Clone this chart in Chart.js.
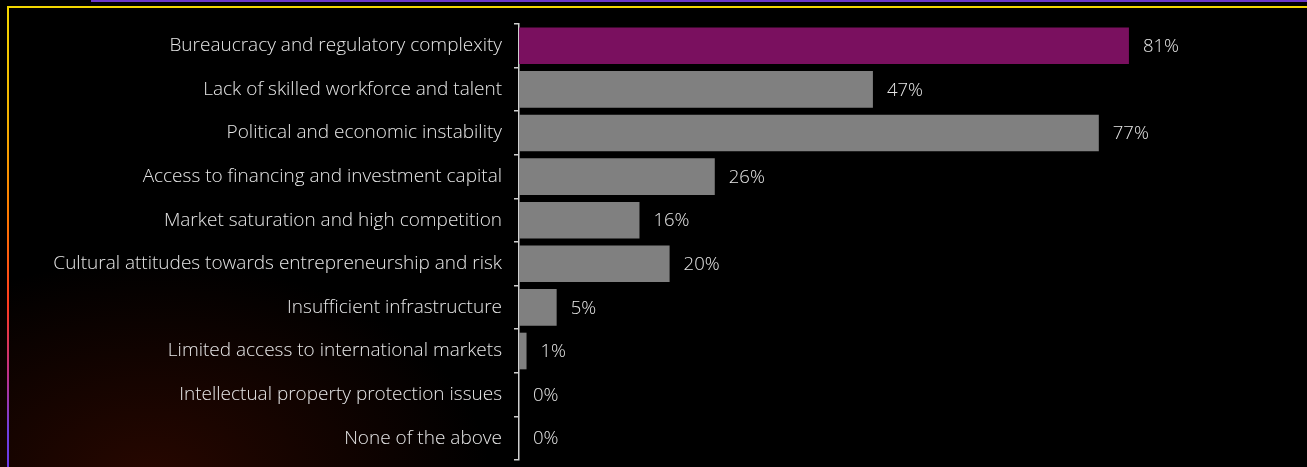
<!DOCTYPE html>
<html>
<head>
<meta charset="utf-8">
<script src="https://cdn.jsdelivr.net/npm/chart.js@4"></script>
<style>
  html, body { margin: 0; padding: 0; background: #000; overflow: hidden; }
  #wrap {
    position: relative; width: 1307px; height: 467px;
    background: radial-gradient(ellipse 340px 220px at 150px 480px, rgba(66, 12, 0, 0.6), rgba(0, 0, 0, 0) 100%), #000;
  }
  .topline { position: absolute; left: 91px; top: 0; right: 0; height: 2px; background: #6a36c9; }
  .frame-top { position: absolute; left: 7px; top: 6px; right: 0; height: 2px; background: #f2d600; }
  .frame-left {
    position: absolute; left: 7px; top: 6px; width: 2px; bottom: 0;
    background: linear-gradient(to bottom, #f2d600 0%, #f4b000 25%, #ff7a00 45%, #ff3a20 65%, #c0308a 80%, #7040e0 92%, #6a3ae8 100%);
  }
  #c { position: absolute; left: 0; top: 0; }
</style>
</head>
<body>
<div id="wrap">
  <div class="topline"></div>
  <div class="frame-top"></div>
  <div class="frame-left"></div>
  <canvas id="c" width="1307" height="467"></canvas>
</div>
<script>
const categories = [
  "Bureaucracy and regulatory complexity",
  "Lack of skilled workforce and talent",
  "Political and economic instability",
  "Access to financing and investment capital",
  "Market saturation and high competition",
  "Cultural attitudes towards entrepreneurship and risk",
  "Insufficient infrastructure",
  "Limited access to international markets",
  "Intellectual property protection issues",
  "None of the above"
];
const shares = [81, 47, 77, 26, 16, 20, 5, 1, 0, 0];
const barColors = shares.map((v, i) => i === 0 ? "#7a105f" : "#808080");

const FONT = "'Open Sans', sans-serif";

// writes the percentage just past the end of each bar
const valueLabels = {
  id: "valueLabels",
  afterDatasetsDraw(chart) {
    const ctx = chart.ctx;
    const meta = chart.getDatasetMeta(0);
    ctx.save();
    ctx.font = "300 18.5px " + FONT;
    ctx.fillStyle = "#e6e6e6";
    ctx.textAlign = "left";
    ctx.textBaseline = "middle";
    meta.data.forEach((bar, i) => {
      ctx.fillText(shares[i] + "%", bar.x + 14, bar.y + 1);
    });
    ctx.restore();
  }
};

new Chart(document.getElementById("c"), {
  type: "bar",
  data: {
    labels: categories,
    datasets: [{
      data: shares,
      backgroundColor: barColors,
      barPercentage: 0.84,
      categoryPercentage: 1
    }]
  },
  options: {
    indexAxis: "y",
    responsive: false,
    animation: false,
    layout: { padding: { top: 24, bottom: 7, left: 0, right: 35 } },
    plugins: { legend: { display: false }, tooltip: { enabled: false } },
    scales: {
      x: { display: false, min: 0, max: 100 },
      y: {
        afterFit(scale) {
          scale.width = 519;
          // labels sit between the ticks, no extra room needed above or below
          scale.paddingTop = 0;
          scale.paddingBottom = 0;
        },
        border: { display: true, color: "#cfcfcf", width: 1.5 },
        grid: { offset: true, drawOnChartArea: false, drawTicks: true, tickLength: 5, color: "#cfcfcf", lineWidth: 1.5 },
        ticks: { color: "#e6e6e6", padding: 12, font: { family: FONT, size: 19, weight: 300 } }
      }
    }
  },
  plugins: [valueLabels]
});
</script>
</body>
</html>
